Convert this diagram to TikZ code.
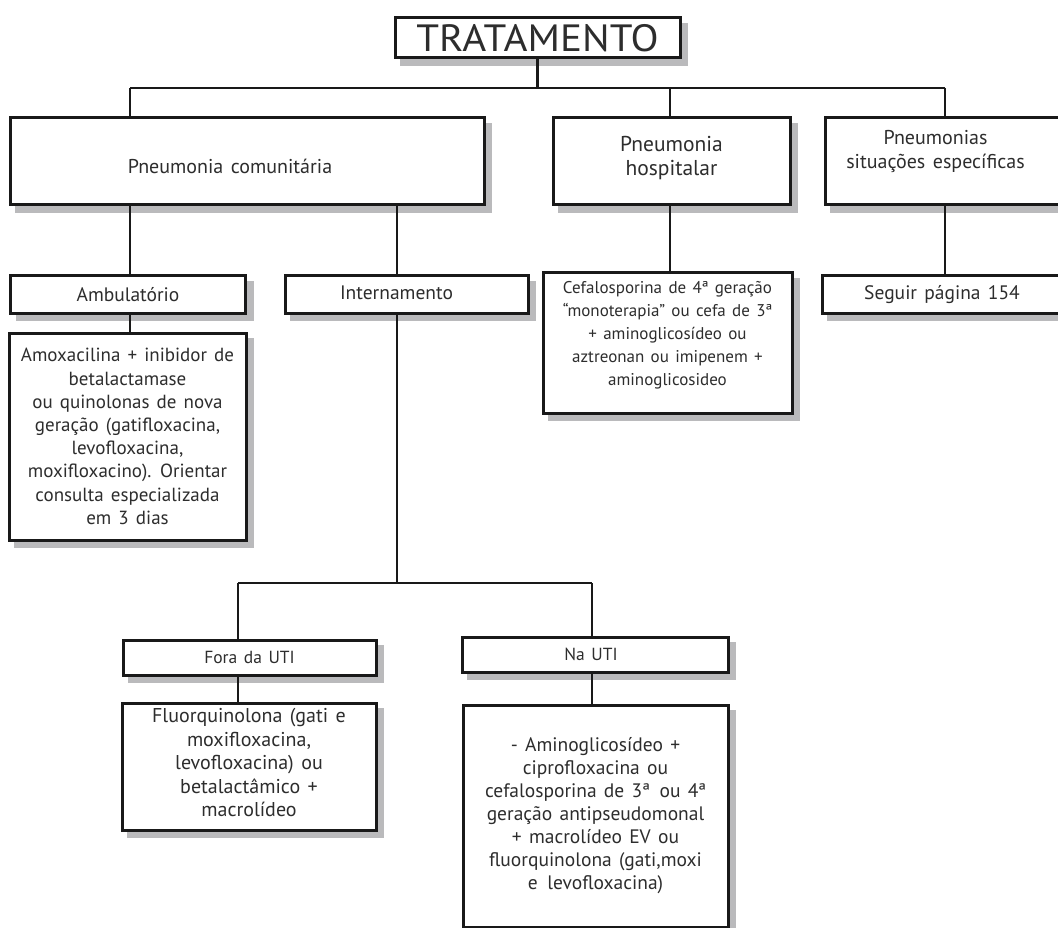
\documentclass[tikz,border=0pt]{standalone}
\usepackage{fontspec}
\setmainfont[WordSpace=1.4]{PT Sans}
\newfontfamily\titlefont[FakeStretch=1.08]{PT Sans}
\usetikzlibrary{backgrounds}
\definecolor{shadowgray}{RGB}{186,186,188}
\definecolor{inkc}{RGB}{25,25,25}
\definecolor{textc}{RGB}{45,45,45}
\begin{document}
\begin{tikzpicture}[x=1pt,y=-1pt,
  box/.style={draw=inkc, line width=3pt, fill=white, text=textc,
    inner sep=0pt, align=center},
  txt/.style 2 args={font=\fontsize{#1}{#2}\selectfont},
  link/.style={draw=inkc, line width=2.4pt},
  shadowbox/.style={fill=shadowgray}]
\useasboundingbox (0,0) rectangle (1058,928);

% level 0
\node[box, minimum width=285pt, minimum height=40pt,
      font=\titlefont\fontsize{38}{40}\selectfont] (trat) at (537.5,38) {TRATAMENTO};

% level 1
\node[box, txt={20}{24}, minimum width=474pt, minimum height=87pt] (comun) at (247,161.5)
  {\raisebox{-5pt}[\height][\depth]{Pneumonia comunitária\kern34pt}};
\node[box, txt={21.5}{24}, minimum width=237pt, minimum height=87pt] (hosp) at (671.5,161.5)
  {\mbox{}\\[-16pt]Pneumonia\\hospitalar};
\node[box, txt={20}{24}, minimum width=237pt, minimum height=87pt] (espec) at (943.5,161.5)
  {\mbox{Pneumonias\kern16pt}\\\mbox{situações específicas\kern16pt}\\\mbox{}};

% level 2
\node[box, txt={19.5}{23}, minimum width=235pt, minimum height=37pt] (amb) at (128,294.5)
  {Ambulatório};
\node[box, txt={19.5}{23}, minimum width=243pt, minimum height=37pt] (intern) at (406.5,294.5)
  {\raisebox{2pt}[\height][\depth]{Internamento\kern20pt}};
\node[box, txt={17}{23}, minimum width=249pt, minimum height=140pt] (cefa) at (667.5,343)
  {Cefalosporina de 4ª geração\\“monoterapia” ou cefa de 3ª\\+ aminoglicosídeo ou\\aztreonan ou imipenem +\\aminoglicosideo\\[-3pt]\mbox{}};
\node[box, txt={19.5}{23}, minimum width=240pt, minimum height=37pt] (seguir) at (942,294.5)
  {Seguir página 154};

\node[box, txt={19}{23.2}, minimum width=237pt, minimum height=207pt] (amox) at (127.5,436.5)
  {Amoxacilina + inibidor de\\betalactamase\\ou quinolonas de nova\\geração (gatifloxacina,\\levofloxacina,\\moxifloxacino). Orientar\\consulta especializada\\em 3 dias};

% level 3
\node[box, txt={17.5}{23}, minimum width=253pt, minimum height=35pt] (fora) at (249.5,657.5)
  {Fora da UTI};
\node[box, txt={17.5}{23}, minimum width=266pt, minimum height=35pt] (nauti) at (595,654.5)
  {\mbox{Na UTI\kern8pt}};
\node[box, txt={20}{23.5}, minimum width=254pt, minimum height=127pt] (fluor) at (249,766.5)
  {Fluorquinolona (gati e\\moxifloxacina,\\levofloxacina) ou\\betalactâmico +\\macrolídeo\\[-16pt]\mbox{}};
\node[box, txt={19.5}{23}, minimum width=265pt, minimum height=222pt] (natxt) at (595.5,816)
  {- Aminoglicosídeo +\\ciprofloxacina ou\\cefalosporina de 3ª\enspace ou 4ª\\geração antipseudomonal\\+ macrolídeo EV ou\\fluorquinolona (gati,moxi\\e\enspace levofloxacina)};

% shadows
\begin{scope}[on background layer]
  \foreach \n in {trat,comun,hosp,espec,amb,intern,cefa,seguir,amox,fora,nauti,fluor,natxt}
    \fill[shadowbox] ([shift={(6.5pt,-6.5pt)}]\n.south west) rectangle ([shift={(6.5pt,-6.5pt)}]\n.north east);
\end{scope}

% connectors
\coordinate (bus0) at (537.5,88);
\coordinate (b1) at (130,88);
\coordinate (b2) at (670,88);
\coordinate (b3) at (945,88);
\draw[link] (trat) -- (bus0);
\draw[link] (b1) -- (b3);
\draw[link] (b1) -- (b1 |- comun.north);
\draw[link] (b2) -- (b2 |- hosp.north);
\draw[link] (b3) -- (b3 |- espec.north);

\coordinate (xa) at (130,0);
\coordinate (xi) at (397,0);
\draw[link] (comun.south -| xa) -- (amb.north -| xa);
\draw[link] (comun.south -| xi) -- (intern.north -| xi);
\draw[link] (hosp.south -| b2) -- (cefa.north -| b2);
\draw[link] (espec.south -| b3) -- (seguir.north -| b3);
\draw[link] (amb.south -| xa) -- (amox.north -| xa);

\coordinate (bus1) at (397,583);
\coordinate (f1) at (238,583);
\coordinate (f2) at (592,583);
\draw[link] (intern.south -| xi) -- (bus1);
\draw[link] (f1) -- (f2);
\draw[link] (f1) -- (f1 |- fora.north);
\draw[link] (f2) -- (f2 |- nauti.north);
\draw[link] (fora.south -| f1) -- (fluor.north -| f1);
\draw[link] (nauti.south -| f2) -- (natxt.north -| f2);
\end{tikzpicture}
\end{document}
